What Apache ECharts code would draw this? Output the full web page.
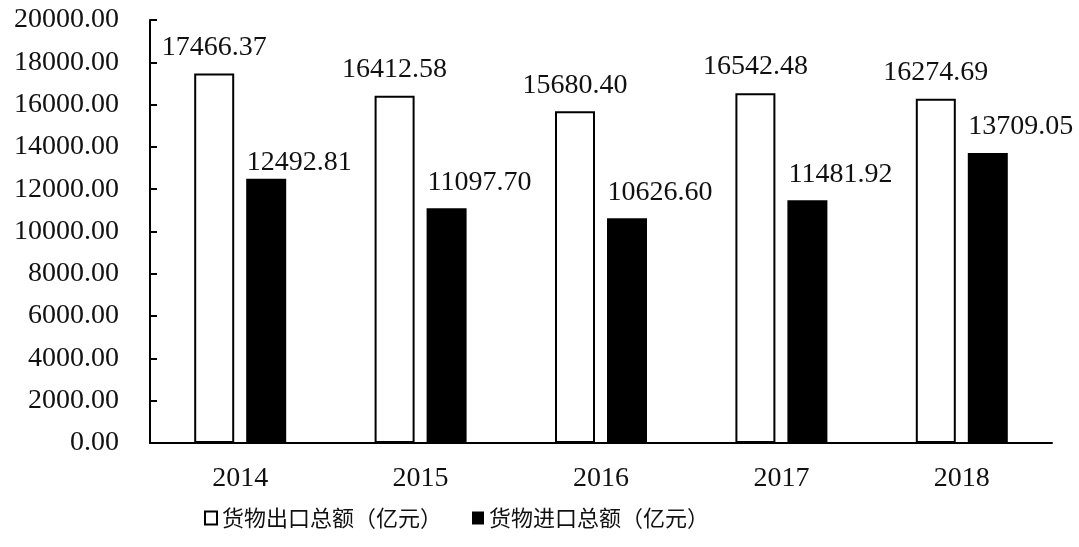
<!DOCTYPE html>
<html>
<head>
<meta charset="utf-8">
<script src="https://cdn.jsdelivr.net/npm/echarts@6/dist/echarts.min.js"></script>
<style>html,body{margin:0;padding:0;background:#fff;}#c{width:1079px;height:547px;}</style>
</head>
<body>
<div id="c"></div>
<script>
const categories = ['2014', '2015', '2016', '2017', '2018'];
const exportValues = [17466.37, 16412.58, 15680.40, 16542.48, 16274.69];
const importValues = [12492.81, 11097.70, 10626.60, 11481.92, 13709.05];
const seriesNames = ['货物出口总额（亿元）', '货物进口总额（亿元）'];
const yTicks = { min: 0, max: 20000, interval: 2000 };

const serif = '"Liberation Serif", "Times New Roman", serif';
const chart = echarts.init(document.getElementById('c'), null, { renderer: 'canvas' });

const importLabelDy = [10, 0, 0, 0, 0];

chart.setOption({
  animation: false,
  backgroundColor: '#fff',
  grid: { left: 150, right: 27, top: 20, bottom: 104, containLabel: false },
  legend: {
    left: 199, top: 502,
    icon: 'rect',
    itemWidth: 12, itemHeight: 13, itemGap: 30,
    textStyle: { fontFamily: '"Noto Sans CJK SC", sans-serif', fontSize: 22, color: '#111' },
    data: seriesNames
  },
  xAxis: {
    type: 'category',
    data: categories,
    axisLine: { lineStyle: { color: '#000', width: 2 } },
    axisTick: { inside: true, length: 8, lineStyle: { color: '#000', width: 2 } },
    axisLabel: { margin: 22, fontFamily: serif, fontSize: 28, color: '#111' }
  },
  yAxis: {
    type: 'value',
    min: yTicks.min, max: yTicks.max, interval: yTicks.interval,
    axisLine: { show: true, lineStyle: { color: '#000', width: 2 } },
    axisTick: { show: true, inside: true, length: 7, lineStyle: { color: '#000', width: 2 } },
    splitLine: { show: false },
    axisLabel: { margin: 31, fontFamily: serif, fontSize: 28, color: '#111', formatter: v => v.toFixed(2) }
  },
  series: [
    {
      name: seriesNames[0], type: 'bar', barWidth: 40, barGap: '30%',
      itemStyle: { color: '#fff', borderColor: '#000', borderWidth: 2 },
      label: { show: true, position: 'top', distance: 12, fontFamily: serif, fontSize: 28, color: '#111',
        formatter: p => p.value.toFixed(2) },
      data: exportValues
    },
    {
      name: seriesNames[1], type: 'bar', barWidth: 40,
      itemStyle: { color: '#000', borderColor: '#000', borderWidth: 0 },
      label: { show: true, position: 'top', distance: 12, fontFamily: serif, fontSize: 28, color: '#111',
        formatter: p => p.value.toFixed(2) },
      data: importValues.map((v, i) => ({ value: v, label: { offset: [33, importLabelDy[i]] } }))
    }
  ]
});
</script>
</body>
</html>
